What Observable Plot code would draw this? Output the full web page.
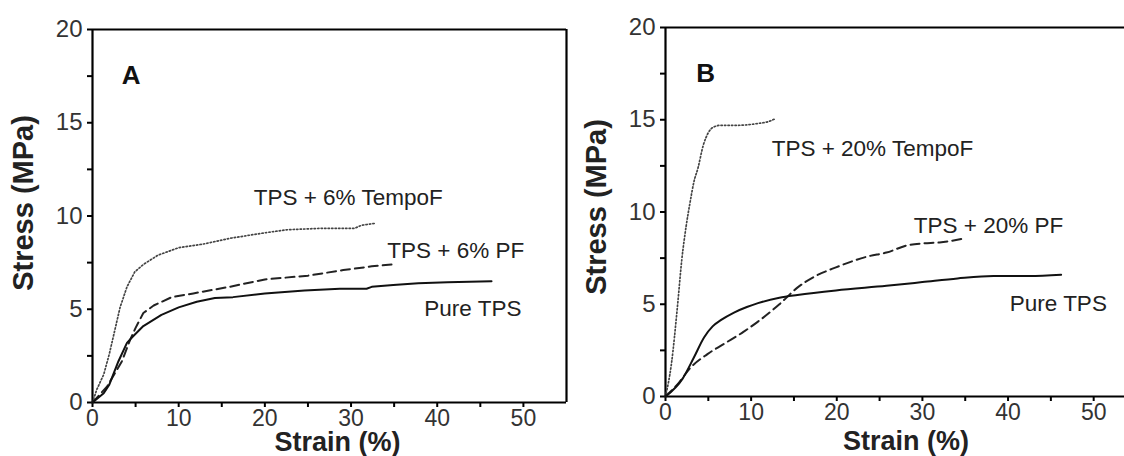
<!DOCTYPE html>
<html>
<head>
<meta charset="utf-8">
<script src="https://cdn.jsdelivr.net/npm/d3@7"></script>
<script src="https://cdn.jsdelivr.net/npm/@observablehq/plot@0.6"></script>
<style>
  html, body { margin: 0; padding: 0; background: #fff; overflow: hidden; }
  #wrap { position: relative; width: 1124px; height: 456px; overflow: hidden; background: #fff; }
  #wrap > svg { position: absolute; top: 0; max-width: none !important; }
</style>
</head>
<body>
<div id="wrap"></div>
<script>
// ---------- Panel A data ----------
const strainA_pure = [0, 1.3, 1.95, 3.0, 4.0, 4.6, 5.9, 8.0, 10, 12.1, 14.2, 16.3, 20, 24.6, 28.7, 31.8, 32.4, 34.9, 37.8, 41.2, 46.3];
const stressA_pure = [0, 0.5, 0.96, 2.2, 3.2, 3.5, 4.1, 4.7, 5.1, 5.4, 5.6, 5.65, 5.85, 6.0, 6.1, 6.1, 6.2, 6.3, 6.4, 6.45, 6.5];
const strainA_pf = [0, 1.7, 3.4, 4.4, 5.0, 5.9, 7.1, 9.2, 11.7, 15.9, 20, 25, 29.1, 32.4, 34.7];
const stressA_pf = [0, 0.86, 2.2, 3.4, 4.0, 4.8, 5.2, 5.65, 5.85, 6.2, 6.6, 6.8, 7.1, 7.3, 7.4];
const strainA_tempo = [0, 0.5, 1.3, 1.95, 2.6, 3.2, 4.0, 4.9, 5.9, 7.6, 10, 12.9, 15.9, 20, 22.5, 26.6, 30.4, 31.2, 32.7];
const stressA_tempo = [0, 0.7, 1.5, 2.6, 3.9, 5.1, 6.2, 7.0, 7.4, 7.9, 8.3, 8.5, 8.8, 9.1, 9.26, 9.34, 9.34, 9.5, 9.6];

// ---------- Panel B data ----------
const strainB_pure = [0, 2.0, 3.3, 4.5, 5.5, 6.5, 8.0, 9.5, 10.8, 13.3, 15.4, 19.9, 25.8, 30, 34.1, 38.3, 42.5, 46.2];
const stressB_pure = [0, 0.97, 2.1, 3.2, 3.8, 4.15, 4.55, 4.85, 5.06, 5.35, 5.5, 5.75, 6.0, 6.2, 6.4, 6.53, 6.53, 6.6];
const strainB_pf = [0, 1.6, 2.8, 4.9, 7.0, 9.1, 10.8, 13.3, 15.4, 17.4, 19.9, 23.7, 25.8, 28.3, 30, 32, 34.6];
const stressB_pf = [0, 0.77, 1.5, 2.3, 2.9, 3.5, 4.06, 5.0, 5.9, 6.5, 7.0, 7.6, 7.8, 8.2, 8.3, 8.35, 8.54];
const strainB_tempo = [0, 0.7, 1.4, 1.9, 2.4, 2.9, 3.3, 3.8, 4.4, 5.0, 5.6, 6.5, 8.5, 10.8, 12.0, 12.8];
const stressB_tempo = [0, 1.8, 4.9, 7.4, 9.2, 10.6, 11.6, 12.4, 13.6, 14.3, 14.6, 14.7, 14.7, 14.8, 14.9, 15.05];

// ---------- Labels ----------
const xTicks = [0, 5, 10, 15, 20, 25, 30, 35, 40, 45, 50];
const yTicks = [0, 2.5, 5, 7.5, 10, 12.5, 15, 17.5, 20];
const xTitle = "Strain (%)";
const yTitle = "Stress (MPa)";
const labelsA = ["A", "TPS + 6% TempoF", "TPS + 6% PF", "Pure TPS"];
const labelXA = [3.4, 18.7, 34.2, 38.5];
const labelYA = [17.5, 11.0, 8.15, 5.0];
const labelsB = ["B", "TPS + 20% TempoF", "TPS + 20% PF", "Pure TPS"];
const labelXB = [3.6, 12.4, 29.0, 40.2];
const labelYB = [17.5, 13.4, 9.27, 5.0];

const FONT = "Liberation Sans, Arial, Helvetica, sans-serif";

function pts(xs, ys) { return xs.map((x, i) => ({x, y: ys[i]})); }

function panel(opts) {
  const {pure, pf, tempo, labels, lx, ly, width, marginLeft, marginTop, marginBottom, marginRight, curve, xTitleDx, yTitleDx, yTitleDy, xTitleDy, rightBorder} = opts;
  const lbl = labels.map((t, i) => ({t, x: lx[i], y: ly[i], bold: i === 0}));
  const border = [
    Plot.ruleY([0], {stroke: "#000", strokeWidth: 2.2}),
    Plot.ruleY([20], {stroke: "#000", strokeWidth: 2.2}),
    Plot.ruleX([0], {stroke: "#000", strokeWidth: 2.2})
  ];
  if (rightBorder) border.push(Plot.ruleX([55], {stroke: "#000", strokeWidth: 2.2}));
  return Plot.plot({
    width, height: 456,
    marginLeft, marginTop, marginBottom, marginRight,
    style: {background: "transparent", fontFamily: FONT, overflow: "visible", maxWidth: "none"},
    x: {domain: [0, 55]},
    y: {domain: [0, 20]},
    marks: [
      Plot.axisX({ticks: xTicks, tickSize: 5, tickPadding: 2, fontSize: 23, fill: "#333", stroke: "#000", strokeWidth: 2,
        tickFormat: d => d % 10 === 0 ? String(d) : "", label: null}),
      Plot.axisY({ticks: yTicks, tickSize: 5, tickPadding: 5, fontSize: 24, fill: "#333", stroke: "#000", strokeWidth: 2,
        tickFormat: d => d % 5 === 0 ? String(d) : "", label: null}),
      ...border,
      Plot.line(pts(tempo[0], tempo[1]), {x: "x", y: "y", stroke: "#444", strokeWidth: 1.7, strokeDasharray: "1.3,2.2", curve}),
      Plot.line(pts(pf[0], pf[1]), {x: "x", y: "y", stroke: "#222", strokeWidth: 2, strokeDasharray: "9,5", curve}),
      Plot.line(pts(pure[0], pure[1]), {x: "x", y: "y", stroke: "#111", strokeWidth: 2, curve}),
      Plot.text(lbl.filter(d => !d.bold), {x: "x", y: "y", text: "t", textAnchor: "start", fontSize: 22.5, fill: "#222"}),
      Plot.text(lbl.filter(d => d.bold), {x: "x", y: "y", text: "t", textAnchor: "start", fontSize: 26, fontWeight: "bold", fill: "#111"}),
      Plot.text([xTitle], {frameAnchor: "bottom", lineAnchor: "middle", textAnchor: "middle", dy: xTitleDy, dx: xTitleDx, fontSize: 27, fontWeight: "bold", fill: "#222"}),
      Plot.text([yTitle], {frameAnchor: "left", lineAnchor: "middle", textAnchor: "middle", rotate: -90, dx: yTitleDx, dy: yTitleDy, fontSize: 29, fontWeight: "bold", fill: "#222"})
    ]
  });
}

const wrap = document.getElementById("wrap");

const svgB = panel({
  pure: [strainB_pure, stressB_pure], pf: [strainB_pf, stressB_pf], tempo: [strainB_tempo, stressB_tempo],
  labels: labelsB, lx: labelXB, ly: labelYB,
  width: 582, marginLeft: 101, marginRight: 10, marginTop: 27, marginBottom: 60,
  curve: "monotone-x", xTitleDx: 5, xTitleDy: 45, yTitleDx: -69, yTitleDy: -5, rightBorder: false
});
svgB.style.left = "564px";
wrap.appendChild(svgB);

const svgA = panel({
  pure: [strainA_pure, stressA_pure], pf: [strainA_pf, stressA_pf], tempo: [strainA_tempo, stressA_tempo],
  labels: labelsA, lx: labelXA, ly: labelYA,
  width: 570, marginLeft: 92, marginRight: 4, marginTop: 29, marginBottom: 54,
  curve: "linear", xTitleDx: 8, xTitleDy: 40, yTitleDx: -69, yTitleDy: -13, rightBorder: true
});
svgA.style.left = "0px";
wrap.appendChild(svgA);
</script>
</body>
</html>
